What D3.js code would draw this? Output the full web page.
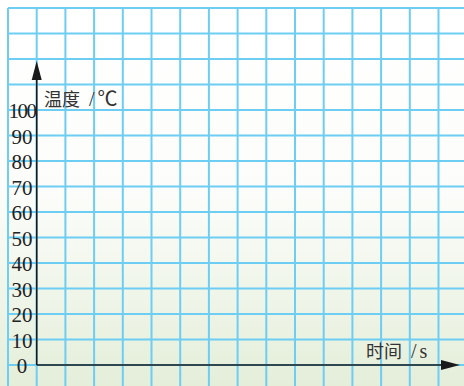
<!DOCTYPE html>
<html>
<head>
<meta charset="utf-8">
<script src="https://d3js.org/d3.v7.min.js"></script>
<style>
    body { margin: 0; padding: 0; background: #fff; }
    svg { display: block; }
</style>
</head>
<body>
<div id="canvas"></div>

<script>
    const width = 464;
    const height = 386;

    // tick labels on the temperature axis
    const yTicks = [0, 10, 20, 30, 40, 50, 60, 70, 80, 90, 100];
    // grid rows (in degrees) and columns (in grid units)
    const gridRows = d3.range(0, 150, 10);
    const gridCols = d3.range(-1, 15, 1);

    // axis titles: name, unit
    const yLabel = ["温度", "℃"];
    const xLabel = ["时间", "s"];

    const gridColor = "#6dcdf3";

    const y = d3.scaleLinear().domain([0, 100]).range([365, 110]);
    const x = d3.scaleLinear().domain([-1, 14]).range([8, 438.5]);

    const svg = d3.select("#canvas")
        .append("svg")
        .attr("width", width)
        .attr("height", height);

    // background gradient, white to pale green
    const grad = svg.append("defs")
        .append("linearGradient")
        .attr("id", "bg")
        .attr("x1", 0).attr("y1", 0)
        .attr("x2", 0).attr("y2", 1);
    grad.append("stop").attr("offset", "0%").attr("stop-color", "#ffffff");
    grad.append("stop").attr("offset", "50%").attr("stop-color", "#fcfdfa");
    grad.append("stop").attr("offset", "100%").attr("stop-color", "#e4eed9");

    svg.append("rect")
        .attr("width", width)
        .attr("height", height)
        .attr("fill", "url(#bg)");

    // grid
    svg.selectAll("line.hgrid")
        .data(gridRows)
        .enter()
        .append("line")
        .attr("class", "hgrid")
        .attr("x1", x(-1))
        .attr("x2", width)
        .attr("y1", d => y(d))
        .attr("y2", d => y(d))
        .attr("stroke", gridColor)
        .attr("stroke-width", 2);

    svg.selectAll("line.vgrid")
        .data(gridCols)
        .enter()
        .append("line")
        .attr("class", "vgrid")
        .attr("x1", d => x(d))
        .attr("x2", d => x(d))
        .attr("y1", y(140))
        .attr("y2", height)
        .attr("stroke", gridColor)
        .attr("stroke-width", 2);

    // axes with arrows
    const x0 = x(0);
    const y0 = y(0);
    const axisColor = "#1a1a1a";

    svg.append("line")
        .attr("x1", x0).attr("x2", x0)
        .attr("y1", y0).attr("y2", 78)
        .attr("stroke", axisColor)
        .attr("stroke-width", 1.6);

    svg.append("path")
        .attr("d", `M${x0},61 L${x0 - 5},80 L${x0 + 5},80 Z`)
        .attr("fill", axisColor);

    svg.append("line")
        .attr("x1", x0).attr("x2", 444)
        .attr("y1", y0).attr("y2", y0)
        .attr("stroke", axisColor)
        .attr("stroke-width", 1.6);

    svg.append("path")
        .attr("d", `M460,${y0} L441,${y0 - 5} L441,${y0 + 5} Z`)
        .attr("fill", axisColor);

    // tick labels
    svg.selectAll("text.tick")
        .data(yTicks)
        .enter()
        .append("text")
        .attr("class", "tick")
        .attr("x", 22)
        .attr("y", d => y(d) + 8)
        .attr("text-anchor", "middle")
        .attr("font-family", "'Liberation Serif', 'DejaVu Serif', serif")
        .attr("font-size", 21)
        .attr("letter-spacing", d => d === 100 ? -1.5 : 0)
        .attr("fill", "#222")
        .text(d => d);

    // axis titles: name, slash, unit
    function title(lbl, xPos, yPos) {
        const t = svg.append("text")
            .attr("x", xPos)
            .attr("y", yPos)
            .attr("font-size", 18)
            .attr("fill", "#333");
        t.append("tspan")
            .attr("font-family", "'Noto Sans CJK SC', sans-serif")
            .text(lbl[0]);
        t.append("tspan")
            .attr("dx", 9)
            .attr("font-family", "'Liberation Serif', serif")
            .attr("font-size", 20)
            .text("/");
        t.append("tspan")
            .attr("dx", 3)
            .attr("font-family", "'Liberation Serif', 'Noto Sans CJK SC', serif")
            .attr("font-size", 20)
            .text(lbl[1]);
    }

    title(yLabel, 44, 106);
    title(xLabel, 366, 358);
</script>
</body>
</html>
